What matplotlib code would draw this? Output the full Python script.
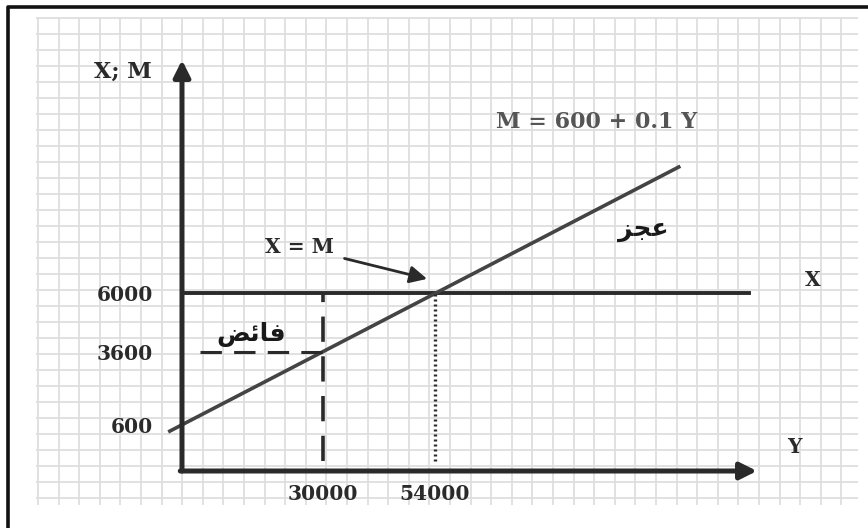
import numpy as np
import matplotlib.pyplot as plt

# exports are fixed, imports rise with income: M = 600 + 0.1 Y
exports_level = 6000
import_line_Y = [-2600, 0, 30000, 54000, 106000]
import_line_M = [340, 600, 3600, 6000, 11200]
y_tick_values = [600, 3600, 6000]
x_tick_values = [30000, 54000]
surplus_income = 30000
surplus_imports = 3600
balance_income = 54000

ink = "#2a2a2a"
serif = ["DejaVu Serif"]
arabic = ["DejaVu Sans"]

fig = plt.figure(figsize=(8.68, 5.28), dpi=100)

# graph-paper background and the page frame, in pixel units
bg = fig.add_axes([0, 0, 1, 1])
bg.set_xlim(0, 868)
bg.set_ylim(528, 0)
bg.axis("off")
cols = np.arange(38, 860, 20.6)
rows = np.arange(18, 506, 16)
bg.vlines(cols, 18, 505, color="#dedede", lw=1.3)
bg.hlines(rows, 36, 858, color="#dedede", lw=1.3)
bg.plot([8, 8, 868], [528, 7, 7], color="#111111", lw=2.6, solid_capstyle="butt")

ax = fig.add_axes([182 / 868, 57 / 528, 575 / 868, 411 / 528])
ax.patch.set_alpha(0)
ax.set_xlim(0, 122700)
ax.set_ylim(-1300, 15600)
for s in ax.spines.values():
    s.set_visible(False)

# axes with arrow heads
ax.annotate("", xy=(0, 1), xytext=(0, 0), xycoords="axes fraction",
            arrowprops=dict(arrowstyle="-|>", color=ink, lw=3.6,
                            mutation_scale=25, shrinkA=0, shrinkB=0))
ax.annotate("", xy=(1, 0), xytext=(-0.003, 0), xycoords="axes fraction",
            arrowprops=dict(arrowstyle="-|>", color=ink, lw=3.6,
                            mutation_scale=25, shrinkA=0, shrinkB=0))

# exports line X and import function M
ax.plot([0, 121000], [exports_level, exports_level], color=ink, lw=2.8, clip_on=False)
ax.plot(import_line_Y, import_line_M, color="#444444", lw=2.6, clip_on=False)

# surplus guides at Y = 30000 and the balance point at Y = 54000
ax.plot([surplus_income, surplus_income], [-900, exports_level], color=ink,
        lw=2.6, dashes=(7, 4))
ax.plot([3800, surplus_income], [surplus_imports, surplus_imports], color=ink,
        lw=2.2, dashes=(7, 4))
ax.plot([balance_income, balance_income], [-900, exports_level], color=ink,
        lw=2.4, linestyle=(0, (0.6, 0.9)))

ax.set_yticks(y_tick_values)
ax.set_yticklabels([str(v) for v in y_tick_values])
ax.set_xticks(x_tick_values)
ax.set_xticklabels([str(v) for v in x_tick_values])
ax.tick_params(length=0, labelsize=14.5, colors=ink)
ax.tick_params(axis="y", pad=21)
ax.tick_params(axis="x", pad=9)
for lab in ax.get_xticklabels() + ax.get_yticklabels():
    lab.set_family(serif)
    lab.set_fontweight("bold")

txt = dict(family=serif, fontweight="bold", color=ink, fontsize=14.5)
ax.text(-6500, 15100, "X; M", ha="right", va="center",
        family=serif, fontweight="bold", color=ink, fontsize=16)
ax.text(134500, 6550, "X", ha="center", va="center", **txt)
ax.text(130600, -300, "Y", ha="center", va="center", **txt)
ax.text(88500, 13050, "M = 600 + 0.1 Y", ha="center", va="center",
        family=serif, fontweight="bold", color="#555555", fontsize=16)

# deficit / surplus labels (presentation forms, visual order)
ax.text(98500, 8600, "\uFEB0\uFEA0\uFECB", ha="center", va="center",
        family=arabic, fontweight="bold", fontsize=18, color="#1a1a1a")
ax.text(14800, 4300, "\uFEBE\uFE8B\uFE8E\uFED3", ha="center", va="center",
        family=arabic, fontweight="bold", fontsize=18, color="#1a1a1a")

ax.annotate("X = M", xy=(52300, 6600), xytext=(25000, 7900),
            ha="center", va="center", **txt,
            arrowprops=dict(arrowstyle="-|>", color=ink, lw=2,
                            mutation_scale=26, shrinkA=6, shrinkB=0))

fig.savefig("out.png", dpi=100)
